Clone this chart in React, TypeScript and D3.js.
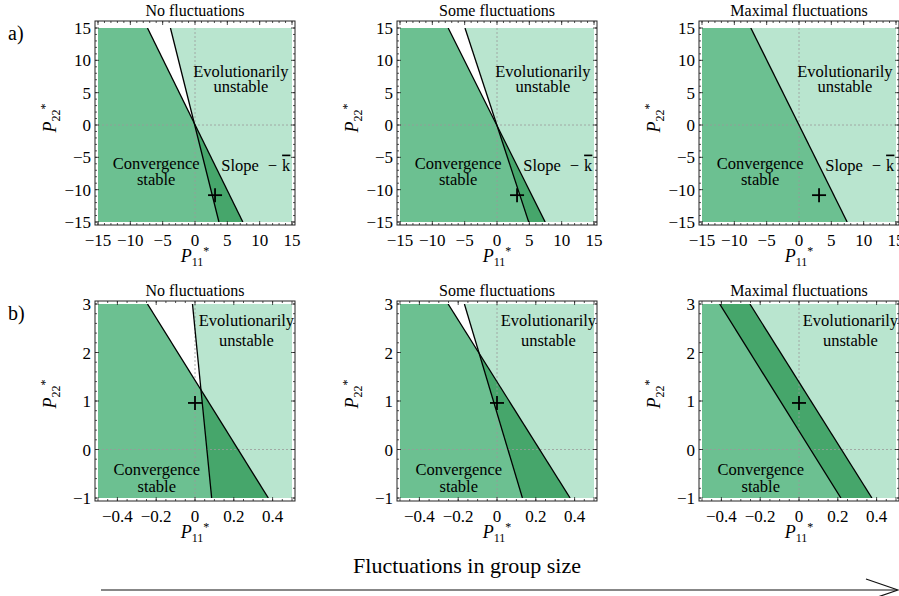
import * as d3 from "d3";

const titles = ["No fluctuations", "Some fluctuations", "Maximal fluctuations"];
const rowLetters = ["a)", "b)"];

// row a: both axes run -15..15
const aDomain = [-15, 15];
const aTicks = [-15, -10, -5, 0, 5, 10, 15];
// row b
const bXDomain = [-0.5, 0.5];
const bYDomain = [-1, 3];
const bXTicks = [-0.4, -0.2, 0, 0.2, 0.4];
const bYTicks = [-1, 0, 1, 2, 3];

// boundary lines: P11* where each line meets the top and the bottom of the plot
const aSlopeLine: number[][] = [[-7.35, 7.4], [-7.55, 7.45], [-7.45, 7.45]];
const aSteepLine: (number[] | null)[] = [[-3.8, 3.7], [-4.95, 4.9], null];
const bSlopeLine: number[][] = [[-0.245, 0.378], [-0.252, 0.377], [-0.253, 0.376]];
const bSteepLine: number[][] = [[-0.013, 0.086], [-0.168, 0.131], [-0.409, 0.216]];

// the "+" marks
const aMarker = [3.1, -10.85];
const bMarker = [0, 0.96];

const C_LIGHT = "#b9e5cf";
const C_MID = "#6cc091";
const C_DARK = "#46a66b";
const FONT = "'Liberation Serif', 'Times New Roman', serif";

type Pt = [number, number];

// Sutherland-Hodgman against one half plane, g >= 0 is kept
function clipPoly(poly: Pt[], g: (p: Pt) => number): Pt[] {
  const out: Pt[] = [];
  for (let i = 0; i < poly.length; i++) {
    const p = poly[i];
    const q = poly[(i + 1) % poly.length];
    const gp = g(p);
    const gq = g(q);
    if (gp >= 0) out.push(p);
    if ((gp >= 0) !== (gq >= 0)) {
      const t = gp / (gp - gq);
      out.push([p[0] + t * (q[0] - p[0]), p[1] + t * (q[1] - p[1])]);
    }
  }
  return out;
}

const fmt = (n: number) => (n < 0 ? "\u2212" : "") + String(+Math.abs(n).toFixed(2));

function Panel({ row, col }: { row: number; col: number }) {
  const isA = row === 0;
  const size = 194;
  const fx = 98 + col * 302;
  const fy = isA ? 28 : 304;
  const xd = isA ? aDomain : bXDomain;
  const yd = isA ? aDomain : bYDomain;
  const x = d3.scaleLinear().domain(xd).range([fx, fx + size]);
  const y = d3.scaleLinear().domain(yd).range([fy + size, fy]);
  const xTicks = isA ? aTicks : bXTicks;
  const yTicks = isA ? aTicks : bYTicks;
  const xMinor = isA ? d3.range(-15, 15.01, 1) : d3.range(-0.5, 0.501, 0.05);
  const yMinor = isA ? d3.range(-15, 15.01, 1) : d3.range(-1, 3.001, 0.2);

  const lineA = isA ? aSlopeLine[col] : bSlopeLine[col];
  const rawB = isA ? aSteepLine[col] : bSteepLine[col];
  const lineB = rawB ?? lineA;
  const yTop = yd[1];
  const yBot = yd[0];
  const xAt = (l: number[]) => (yy: number) =>
    l[0] + ((yTop - yy) * (l[1] - l[0])) / (yTop - yBot);
  const gA = (p: Pt) => xAt(lineA)(p[1]) - p[0];
  const gB = (p: Pt) => xAt(lineB)(p[1]) - p[0];

  const rect: Pt[] = [
    [xd[0], yd[0]],
    [xd[1], yd[0]],
    [xd[1], yd[1]],
    [xd[0], yd[1]],
  ];
  const toPath = (poly: Pt[]) =>
    poly.length ? "M" + poly.map((p) => `${x(p[0])},${y(p[1])}`).join("L") + "Z" : "";
  const leftB = clipPoly(rect, gB);
  const leftA = clipPoly(rect, gA);
  const both = clipPoly(leftA, gB);

  const left = fx - 3;
  const right = fx + size + 3;
  const top = isA ? fy - 7 : fy - 3;
  const bottom = fy + size + 3;
  const clipId = `clip-${row}-${col}`;
  const marker = isA ? aMarker : bMarker;
  const cx = fx + size / 2;

  const labelEvo = isA ? [7.1, 7.45, 5.1] : [0.265, 2.54, 2.14];
  const labelConv = isA ? [-6.0, -6.75, -9.25] : [-0.197, -0.52, -0.87];

  const boundary = [lineA, ...(rawB ? [rawB] : [])];

  return (
    <g>
      <defs>
        <clipPath id={clipId}>
          <rect x={fx} y={fy} width={size} height={size} />
        </clipPath>
      </defs>
      <rect x={fx} y={fy} width={size} height={size} fill={C_LIGHT} />
      <path d={toPath(leftB)} fill="#ffffff" />
      <path d={toPath(leftA)} fill={C_DARK} />
      <path d={toPath(both)} fill={C_MID} />
      <line x1={x(0)} x2={x(0)} y1={fy} y2={fy + size} stroke="#999" strokeWidth={0.8} strokeDasharray="2,2" />
      <line x1={fx} x2={fx + size} y1={y(0)} y2={y(0)} stroke="#999" strokeWidth={0.8} strokeDasharray="2,2" />
      <g clipPath={`url(#${clipId})`}>
        {boundary.map((l, i) => (
          <line key={i} x1={x(l[0])} y1={y(yTop)} x2={x(l[1])} y2={y(yBot)} stroke="#000" strokeWidth={1.3} />
        ))}
      </g>
      <g fontFamily={FONT} fontSize={16.5} fill="#000" textAnchor="middle">
        <text x={x(labelEvo[0])} y={y(labelEvo[1])}>Evolutionarily</text>
        <text x={x(labelEvo[0])} y={y(labelEvo[2])}>unstable</text>
        <text x={x(labelConv[0])} y={y(labelConv[1])}>Convergence</text>
        <text x={x(labelConv[0])} y={y(labelConv[2])}>stable</text>
        {isA && (
          <text x={x(9.4)} y={y(-7.05)}>
            Slope<tspan dx={9}>{"\u2212"}</tspan>
            <tspan dx={5} style={{ textDecoration: "overline" }}>k</tspan>
          </text>
        )}
      </g>
      <g stroke="#000" strokeWidth={1.8}>
        <line x1={x(marker[0]) - 7} x2={x(marker[0]) + 7} y1={y(marker[1])} y2={y(marker[1])} />
        <line x1={x(marker[0])} x2={x(marker[0])} y1={y(marker[1]) - 7} y2={y(marker[1]) + 7} />
      </g>
      {/* frame with inward ticks on all sides */}
      <rect x={left} y={top} width={right - left} height={bottom - top} fill="none" stroke="#222" strokeWidth={1} />
      <g stroke="#222" strokeWidth={0.8}>
        {xMinor.map((v, i) => (
          <g key={"xm" + i}>
            <line x1={x(v)} x2={x(v)} y1={bottom} y2={bottom - 2} />
            <line x1={x(v)} x2={x(v)} y1={top} y2={top + 2} />
          </g>
        ))}
        {yMinor.map((v, i) => (
          <g key={"ym" + i}>
            <line x1={left} x2={left + 2} y1={y(v)} y2={y(v)} />
            <line x1={right} x2={right - 2} y1={y(v)} y2={y(v)} />
          </g>
        ))}
        {xTicks.map((v, i) => (
          <g key={"xM" + i}>
            <line x1={x(v)} x2={x(v)} y1={bottom} y2={bottom - 4} />
            <line x1={x(v)} x2={x(v)} y1={top} y2={top + 4} />
          </g>
        ))}
        {yTicks.map((v, i) => (
          <g key={"yM" + i}>
            <line x1={left} x2={left + 4} y1={y(v)} y2={y(v)} />
            <line x1={right} x2={right - 4} y1={y(v)} y2={y(v)} />
          </g>
        ))}
      </g>
      <g fontFamily={FONT} fontSize={17} fill="#000">
        {xTicks.map((v, i) => (
          <text key={"xl" + i} x={x(v)} y={bottom + 21} textAnchor="middle">{fmt(v)}</text>
        ))}
        {yTicks.map((v, i) => (
          <text key={"yl" + i} x={left - 4} y={y(v) + 6} textAnchor="end">{fmt(v)}</text>
        ))}
      </g>
      <text x={cx} y={top - 5} textAnchor="middle" fontFamily={FONT} fontSize={16} fill="#000">
        {titles[col]}
      </text>
      <text x={cx} y={bottom + 37} textAnchor="middle" fontFamily={FONT} fontSize={18} fill="#000">
        <tspan fontStyle="italic">P</tspan>
        <tspan fontSize={12} dy={4}>11</tspan>
        <tspan fontSize={12} dy={-11}>*</tspan>
      </text>
      <text
        transform={`translate(${fx - 42},${fy + size / 2 - 7}) rotate(-90)`}
        textAnchor="middle"
        fontFamily={FONT}
        fontSize={18}
        fill="#000"
      >
        <tspan fontStyle="italic">P</tspan>
        <tspan fontSize={12} dy={4}>22</tspan>
        <tspan fontSize={12} dy={-11}>*</tspan>
      </text>
    </g>
  );
}

export default function App() {
  return (
    <svg
      width={899}
      height={596}
      style={{ position: "absolute", left: 0, top: 0, background: "#fff" }}
    >
      {[0, 1].map((r) =>
        [0, 1, 2].map((c) => <Panel key={`${r}-${c}`} row={r} col={c} />)
      )}
      {rowLetters.map((t, i) => (
        <text key={t} x={8} y={i === 0 ? 40 : 320} fontFamily={FONT} fontSize={20} fill="#000">
          {t}
        </text>
      ))}
      <text x={467} y={573} textAnchor="middle" fontFamily={FONT} fontSize={22} fill="#000">
        Fluctuations in group size
      </text>
      <g stroke="#111" strokeWidth={1.2} fill="none">
        <line x1={101} x2={897} y1={590} y2={590} />
        <polyline points="866,579 898,590 866,601" />
      </g>
    </svg>
  );
}
